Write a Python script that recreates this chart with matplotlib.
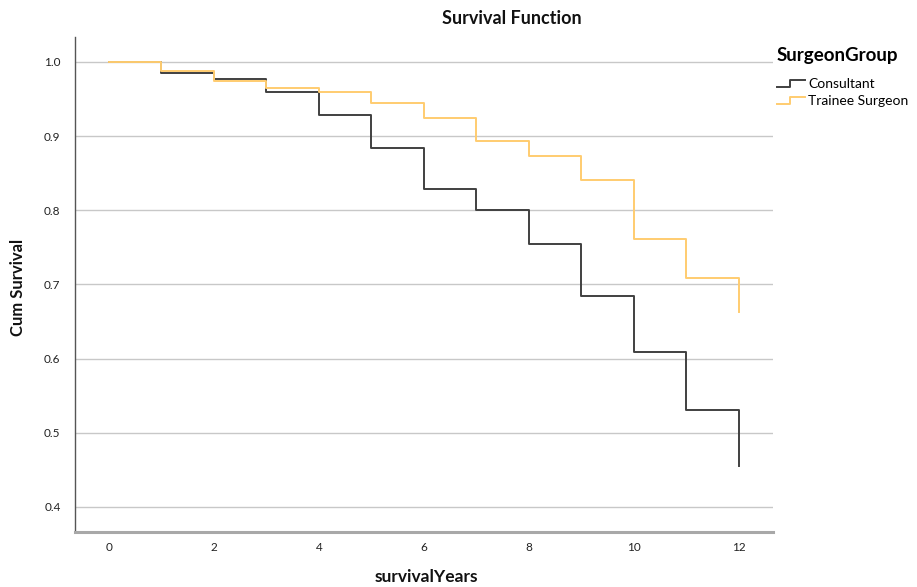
import matplotlib
matplotlib.use("Agg")
import matplotlib.pyplot as plt
from matplotlib.legend_handler import HandlerLine2D
from matplotlib.lines import Line2D

plt.rcParams['font.family'] = ['Lato', 'DejaVu Sans']

years = [0, 1, 2, 3, 4, 5, 6, 7, 8, 9, 10, 11, 12]
consultant = [1.0, 0.985, 0.977, 0.959, 0.929, 0.884, 0.829, 0.800, 0.755, 0.684, 0.609, 0.530, 0.455]
trainee = [1.0, 0.988, 0.975, 0.965, 0.959, 0.945, 0.924, 0.894, 0.873, 0.841, 0.761, 0.708, 0.663]
group_names = ["Consultant", "Trainee Surgeon"]
colors = ["#404040", "#ffcc70"]
yticks = [0.4, 0.5, 0.6, 0.7, 0.8, 0.9, 1.0]
xticks = [0, 2, 4, 6, 8, 10, 12]

W, H = 917, 587


class StepHandler(HandlerLine2D):
    def create_artists(self, legend, orig_handle, xdescent, ydescent, width, height, fontsize, trans):
        x0 = -xdescent
        y0 = -ydescent + height * 0.1
        y1 = -ydescent + height * 0.8
        xs = [x0, x0 + width * 0.45, x0 + width * 0.45, x0 + width]
        ys = [y0, y0, y1, y1]
        ln = Line2D(xs, ys, color=orig_handle.get_color(), lw=orig_handle.get_linewidth())
        ln.set_transform(trans)
        return [ln]


fig = plt.figure(figsize=(9.17, 5.87), dpi=100)
ax = fig.add_axes([74.5 / W, 1 - 532 / H, (773 - 74.5) / W, (532 - 37) / H])

handles = []
for vals, name, c in zip([consultant, trainee], group_names, colors):
    xs, ys = [], []
    for i in range(len(years) - 1):
        xs += [years[i], years[i + 1]]
        ys += [vals[i], vals[i]]
    xs.append(years[-1])
    ys.append(vals[-1])
    h, = ax.plot(xs, ys, color=c, lw=1.4, label=name, zorder=3)
    handles.append(h)

ax.set_xlim(-0.657, 12.65)
ax.set_ylim(0.366, 1.0337)
ax.set_yticks(yticks)
ax.set_yticklabels([f"{v:.1f}" for v in yticks])
ax.set_xticks(xticks)
ax.set_xticklabels([str(v) for v in xticks])
ax.tick_params(length=0, labelsize=8.5, colors="#222222")
ax.tick_params(axis='y', pad=10)
ax.tick_params(axis='x', pad=7)
ax.grid(axis='y', color="#c8c8c8", lw=1.0)
ax.set_axisbelow(True)
for s in ["top", "right"]:
    ax.spines[s].set_visible(False)
ax.spines["left"].set_color("#555555")
ax.spines["left"].set_linewidth(1.0)
ax.spines["bottom"].set_color("#a8a8a8")
ax.spines["bottom"].set_linewidth(2.2)

fig.text(512 / W, 1 - 18 / H, "Survival Function", fontsize=13, fontweight="bold",
         ha="center", va="center", color="#111111")
fig.text(18 / W, 1 - 287 / H, "Cum Survival", fontsize=12, fontweight="bold",
         ha="center", va="center", rotation=90, color="#111111")
fig.text(426 / W, 1 - 577 / H, "survivalYears", fontsize=12.5, fontweight="bold",
         ha="center", va="center", color="#111111")

leg = fig.legend(handles=handles, title="SurgeonGroup", loc="upper left",
                 bbox_to_anchor=(777 / W, 1 - 47 / H), frameon=False,
                 handler_map={Line2D: StepHandler()}, fontsize=10,
                 title_fontproperties={"weight": "bold", "size": 13.5},
                 handlelength=2.0, handletextpad=0.25, labelspacing=0.35,
                 borderaxespad=0.0, borderpad=0.0)
leg._legend_box.align = "left"
leg._legend_box.sep = 10

fig.savefig("out.png", dpi=100)
